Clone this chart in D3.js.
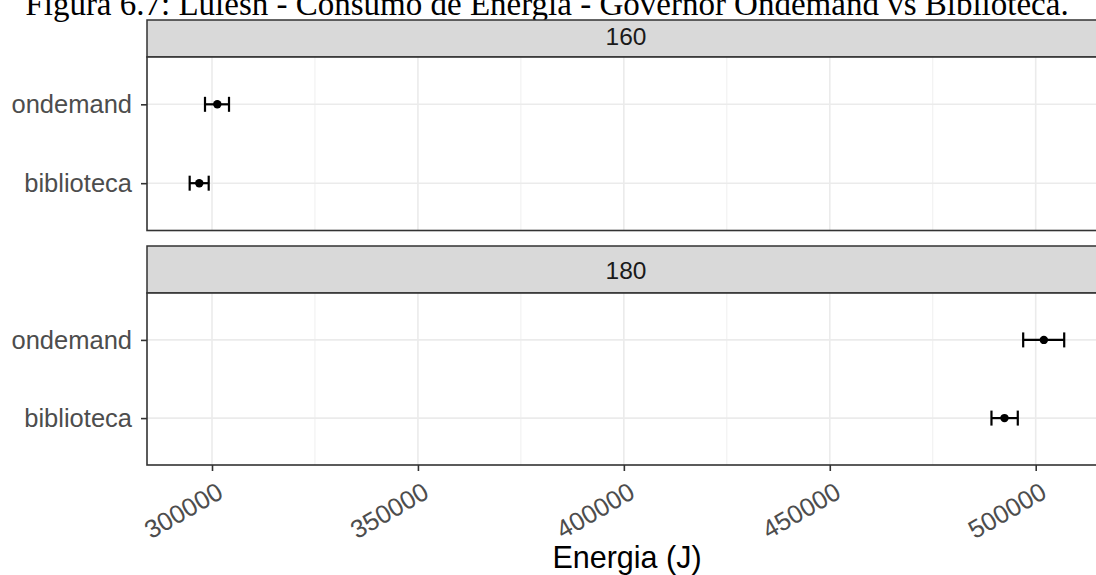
<!DOCTYPE html>
<html><head><meta charset="utf-8">
<script src="https://cdn.jsdelivr.net/npm/d3@7"></script>
<style>body{margin:0;background:#fff}svg{display:block}</style>
</head><body>
<svg id="c" width="1096" height="575"></svg>
<script>
const title = "Figura 6.7: Lulesh - Consumo de Energia - Governor Ondemand vs Biblioteca.";
const facets = ["160", "180"];
const categories = ["ondemand", "biblioteca"];
// mean, lower, upper per facet, in order of categories
const means = {"160": [301290, 296910], "180": [501980, 492420]};
const lows  = {"160": [298300, 294580], "180": [496960, 489260]};
const highs = {"160": [304130, 299200], "180": [506920, 495650]};
const xTicks = [300000, 350000, 400000, 450000, 500000];
const xMinor = [325000, 375000, 425000, 475000];
const xLabel = "Energia (J)";

const svg = d3.select("#c");
const L = 147, R = 1105;
const SANS = "Liberation Sans, Arial, sans-serif";
const x = d3.scaleLinear().domain([284218, 516826]).range([L, R]);
const panels = [{strip:[20,57], body:[57,230.5], tb:45}, {strip:[246,293], body:[293,465], tb:279}];

svg.append("text").attr("x", 547).attr("y", 15).attr("text-anchor","middle")
  .attr("font-family","Liberation Serif, Times New Roman, serif").attr("font-size", 33)
  .attr("fill","#000").text(title);

facets.forEach((f, i) => {
  const p = panels[i];
  const y = d3.scalePoint().domain(categories).range(p.body).padding(0.6);
  const g = svg.append("g");
  // strip
  g.append("rect").attr("x", L).attr("y", p.strip[0]).attr("width", R-L).attr("height", p.strip[1]-p.strip[0])
    .attr("fill","#d9d9d9").attr("stroke","#333").attr("stroke-width",1.5);
  g.append("text").attr("x", (L+R)/2).attr("y", p.tb).attr("text-anchor","middle")
    .attr("font-family",SANS).attr("font-size", 24.5).attr("fill","#1a1a1a").text(f);
  // panel bg
  g.append("rect").attr("x", L).attr("y", p.body[0]).attr("width", R-L).attr("height", p.body[1]-p.body[0]).attr("fill","#fff");
  // grid
  g.selectAll(".mi").data(xMinor).join("line").attr("x1", d=>x(d)).attr("x2", d=>x(d))
    .attr("y1", p.body[0]).attr("y2", p.body[1]).attr("stroke","#ebebeb").attr("stroke-width",0.8);
  g.selectAll(".ma").data(xTicks).join("line").attr("x1", d=>x(d)).attr("x2", d=>x(d))
    .attr("y1", p.body[0]).attr("y2", p.body[1]).attr("stroke","#ebebeb").attr("stroke-width",1.6);
  g.selectAll(".hy").data(categories).join("line").attr("x1", L).attr("x2", R)
    .attr("y1", d=>y(d)).attr("y2", d=>y(d)).attr("stroke","#ebebeb").attr("stroke-width",1.6);
  // y axis
  const ya = g.append("g").attr("transform", `translate(${L},0)`)
    .call(d3.axisLeft(y).tickSize(6).tickPadding(9));
  ya.select(".domain").remove();
  ya.selectAll(".tick line").attr("stroke","#333").attr("stroke-width",1.6);
  ya.selectAll(".tick text").attr("font-family",SANS).attr("font-size", 25.5).attr("fill","#4d4d4d");
  // error bars
  const data = categories.map((c, j) => ({c, m: means[f][j], lo: lows[f][j], hi: highs[f][j]}));
  const eb = g.selectAll(".eb").data(data).join("g");
  eb.append("line").attr("x1", d=>x(d.lo)).attr("x2", d=>x(d.hi)).attr("y1", d=>y(d.c)).attr("y2", d=>y(d.c))
    .attr("stroke","#000").attr("stroke-width",2.2);
  eb.append("line").attr("x1", d=>x(d.lo)).attr("x2", d=>x(d.lo)).attr("y1", d=>y(d.c)-7.5).attr("y2", d=>y(d.c)+7.5)
    .attr("stroke","#000").attr("stroke-width",2.2);
  eb.append("line").attr("x1", d=>x(d.hi)).attr("x2", d=>x(d.hi)).attr("y1", d=>y(d.c)-7.5).attr("y2", d=>y(d.c)+7.5)
    .attr("stroke","#000").attr("stroke-width",2.2);
  eb.append("circle").attr("cx", d=>x(d.m)).attr("cy", d=>y(d.c)).attr("r", 4.2).attr("fill","#000");
  // border
  g.append("rect").attr("x", L).attr("y", p.body[0]).attr("width", R-L).attr("height", p.body[1]-p.body[0])
    .attr("fill","none").attr("stroke","#333").attr("stroke-width",1.6);
});

// x axis
const xa = svg.append("g").attr("transform", `translate(0,${panels[1].body[1]})`)
  .call(d3.axisBottom(x).tickValues(xTicks).tickSize(6).tickPadding(3).tickFormat(d3.format("d")));
xa.select(".domain").remove();
xa.selectAll(".tick line").attr("stroke","#333").attr("stroke-width",1.6);
xa.selectAll(".tick text").attr("font-family",SANS).attr("font-size", 25.5).attr("fill","#4d4d4d")
  .attr("text-anchor","end").attr("dy", null).attr("transform","translate(3,16) rotate(-30)").attr("y", 0).attr("x", 0)
  .attr("dominant-baseline","hanging");

svg.append("text").attr("x", 627).attr("y", 568).attr("text-anchor","middle")
  .attr("font-family",SANS).attr("font-size", 30.5).attr("fill","#000").text(xLabel);
</script>
</body></html>
